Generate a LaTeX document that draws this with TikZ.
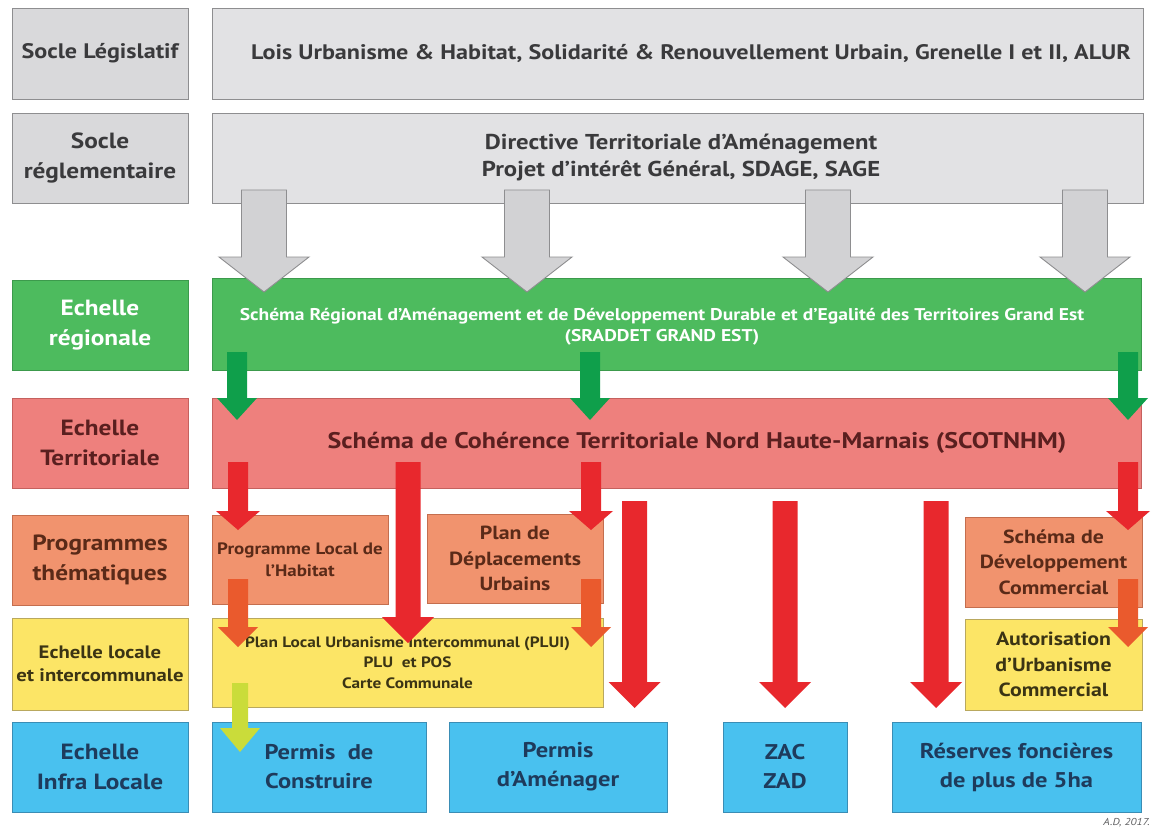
\documentclass[tikz,border=0pt]{standalone}
\usepackage{fontspec}
\setmainfont{PT Sans}[FakeStretch=1.15]
\usetikzlibrary{calc}
\definecolor{greyL}{HTML}{D9D9DB}
\definecolor{greyR}{HTML}{E2E2E4}
\definecolor{greyD}{HTML}{8E8E90}
\definecolor{greyA}{HTML}{D2D2D4}
\definecolor{greyT}{HTML}{3A3A3C}
\definecolor{greenB}{HTML}{4DBB5E}
\definecolor{greenD}{HTML}{3C9A4C}
\definecolor{greenA}{HTML}{0F9F4B}
\definecolor{redB}{HTML}{EE807D}
\definecolor{redD}{HTML}{C5615E}
\definecolor{redT}{HTML}{5A1F1F}
\definecolor{redA}{HTML}{E8282D}
\definecolor{oraB}{HTML}{F1936E}
\definecolor{oraD}{HTML}{C46E4E}
\definecolor{oraT}{HTML}{5A2A18}
\definecolor{oraA}{HTML}{EA5A2D}
\definecolor{yelB}{HTML}{FCE566}
\definecolor{yelD}{HTML}{B9A85E}
\definecolor{yelT}{HTML}{3B3414}
\definecolor{ygA}{HTML}{CADC3A}
\definecolor{bluB}{HTML}{49C1EF}
\definecolor{bluD}{HTML}{3A8DB5}
\definecolor{bluT}{HTML}{1E3B5C}
\newcommand\bx[7]{%
  \pgfmathsetmacro\bxcx{(#3+#5)/2}%
  \pgfmathsetmacro\bxcy{(#4+#6)/2}%
  \pgfmathsetmacro\bxw{#5-#3}%
  \pgfmathsetmacro\bxh{#6-#4}%
  \node[#2, minimum width=\bxw pt, minimum height=\bxh pt] (#1) at (\bxcx,\bxcy) {#7};}
% block arrow: style, from, to, shaft half width, head half width, head length
\newcommand\blockarrow[6]{%
  \path[#1] let \p1=(#2), \p2=(#3) in
    ({\x1-#4pt},\y1) -- ({\x1+#4pt},\y1) -- ({\x1+#4pt},{\y2+#6pt}) --
    ({\x1+#5pt},{\y2+#6pt}) -- (\x1,\y2) -- ({\x1-#5pt},{\y2+#6pt}) --
    ({\x1-#4pt},{\y2+#6pt}) -- cycle;}
\tikzset{
  box/.style={draw, line width=0.9pt, inner sep=0pt, outer sep=0pt, align=center},
  fL/.style={font=\bfseries\fontsize{22}{30}\selectfont},
  fB/.style={font=\bfseries\fontsize{21.3}{29}\selectfont},
  fM/.style={font=\bfseries\fontsize{19}{25.5}\selectfont},
  fS/.style={font=\bfseries\fontsize{15}{20.5}\selectfont},
  gbox/.style={box, fill=greyL, draw=greyD, text=greyT},
  gboxr/.style={box, fill=greyR, draw=greyD, text=greyT},
  grbox/.style={box, fill=greenB, draw=greenD, text=white},
  rbox/.style={box, fill=redB, draw=redD, text=redT},
  obox/.style={box, fill=oraB, draw=oraD, text=oraT},
  ybox/.style={box, fill=yelB, draw=yelD, text=yelT},
  bbox/.style={box, fill=bluB, draw=bluD, text=bluT},
  txt/.style={inner sep=0pt, align=center},
  garrow/.style={fill=greyA, draw=greyD, line width=0.9pt, line join=miter},
  grarrow/.style={fill=greenA},
  rarrow/.style={fill=redA},
  oarrow/.style={fill=oraA},
  yarrow/.style={fill=ygA},
}
\begin{document}
\begin{tikzpicture}[x=1pt,y=-1pt]
\useasboundingbox (0,0) rectangle (1155,834);
\fill[white] (0,0) rectangle (1155,834);
% left labels
\bx{l1}{gbox,font=\bfseries\fontsize{21}{30}\selectfont}{12}{8}{188}{99}{Socle Législatif}
\bx{l2}{gbox,fL}{12}{113}{188}{203}{Socle\\réglementaire}
\bx{l3}{grbox,fL}{12}{280}{188}{370}{Echelle\\régionale}
\bx{l4}{rbox,fL}{12}{398}{188}{488}{Echelle\\Territoriale}
\bx{l5}{obox,fL}{12}{515}{188}{605}{Programmes\\thématiques}
\bx{l6}{ybox,font=\bfseries\fontsize{18}{23}\selectfont}{12}{618}{188}{710}{Echelle locale\\et intercommunale}
\bx{l7}{bbox,fL}{12}{722}{188}{812}{Echelle\\Infra Locale}
% wide rows
\bx{r1}{gboxr}{212}{8}{1143}{99}{}
\node[txt,text=greyT,font=\bfseries\fontsize{21}{27}\selectfont] (t1) at (691,53) {Lois Urbanisme \& Habitat, Solidarité \& Renouvellement Urbain, Grenelle I et II, ALUR};
\bx{r2}{gboxr}{212}{113}{1143}{203}{}
\node[txt,text=greyT,font=\bfseries\fontsize{21.5}{27}\selectfont] (t2) at (681,157) {Directive Territoriale d’Aménagement\\Projet d’intérêt Général, SDAGE, SAGE};
\bx{r3}{grbox}{212}{278}{1141}{370}{}
\node[txt,text=white,font=\bfseries\fontsize{17}{21}\selectfont] (t3) at (662,327) {Schéma Régional d’Aménagement et de Développement Durable et d’Egalité des Territoires Grand Est\\(SRADDET GRAND EST)};
\bx{r4}{rbox}{212}{398}{1141}{488}{}
\node[txt,text=redT,font=\bfseries\fontsize{22.6}{28}\selectfont] (t4) at (697,443) {Schéma de Cohérence Territoriale Nord Haute-Marnais (SCOTNHM)};
% thematic
\bx{p1}{obox,font=\bfseries\fontsize{16.5}{22}\selectfont}{212}{515}{388}{604}{Programme Local de\\l’Habitat}
\bx{p2}{obox,fM}{427}{514}{603}{603}{Plan de\\Déplacements\\Urbains}
\bx{p3}{obox,fM}{965}{517}{1142}{607}{Schéma de\\Développement\\Commercial}
% local
\bx{y1}{ybox,fS}{212}{618}{603}{707}{Plan Local Urbanisme Intercommunal (PLUI)\\PLU\ \ et POS\\Carte Communale}
\bx{y2}{ybox,fM}{965}{619}{1142}{710}{Autorisation\\d’Urbanisme\\Commercial}
% infra
\bx{b1}{bbox,fB}{212}{722}{426}{812}{Permis\ \ de\\Construire}
\bx{b2}{bbox,fB}{449}{722}{667}{812}{Permis\\d’Aménager}
\bx{b3}{bbox,fB}{723}{722}{847}{812}{ZAC\\ZAD}
\bx{b4}{bbox,fB}{892}{722}{1141}{812}{Réserves foncières\\de plus de 5ha}
% arrow end points
\foreach \k/\x in {1/264,2/527,3/828,4/1085}{
  \coordinate (gs\k) at (\x,190); \coordinate (ge\k) at (\x,292);}
\foreach \k/\x in {1/237,2/590,3/1128}{
  \coordinate (vs\k) at (\x,352); \coordinate (ve\k) at (\x,420);}
\foreach \k/\x in {1/238,2/591,3/1128}{
  \coordinate (rs\k) at (\x,462); \coordinate (re\k) at (\x,530);
  \coordinate (os\k) at (\x,579); \coordinate (oe\k) at (\x,647);}
\coordinate (ps) at (408,462); \coordinate (pe) at (408,643);
\foreach \k/\x in {1/634.5,2/785,3/936}{
  \coordinate (ls\k) at (\x,501); \coordinate (le\k) at (\x,708);}
\coordinate (ys) at (240,683); \coordinate (ye) at (240,752);
% arrows
\foreach \k in {1,2,3,4}{\blockarrow{garrow}{gs\k}{ge\k}{22.5}{45}{35}}
\foreach \k in {1,2,3}{\blockarrow{grarrow}{vs\k}{ve\k}{10}{20}{22}}
\foreach \k in {1,2,3}{\blockarrow{rarrow}{rs\k}{re\k}{10}{22}{19}}
\foreach \k in {1,2,3}{\blockarrow{oarrow}{os\k}{oe\k}{10}{20}{20}}
\blockarrow{rarrow}{ps}{pe}{12.5}{26}{26}
\foreach \k in {1,2,3}{\blockarrow{rarrow}{ls\k}{le\k}{12.5}{26}{26}}
\blockarrow{yarrow}{ys}{ye}{8}{20}{24}
\node[txt,anchor=east,text=greyT!80,font=\itshape\fontsize{10}{12}\selectfont] (ad) at (1150,823) {A.D, 2017.};
\end{tikzpicture}
\end{document}
